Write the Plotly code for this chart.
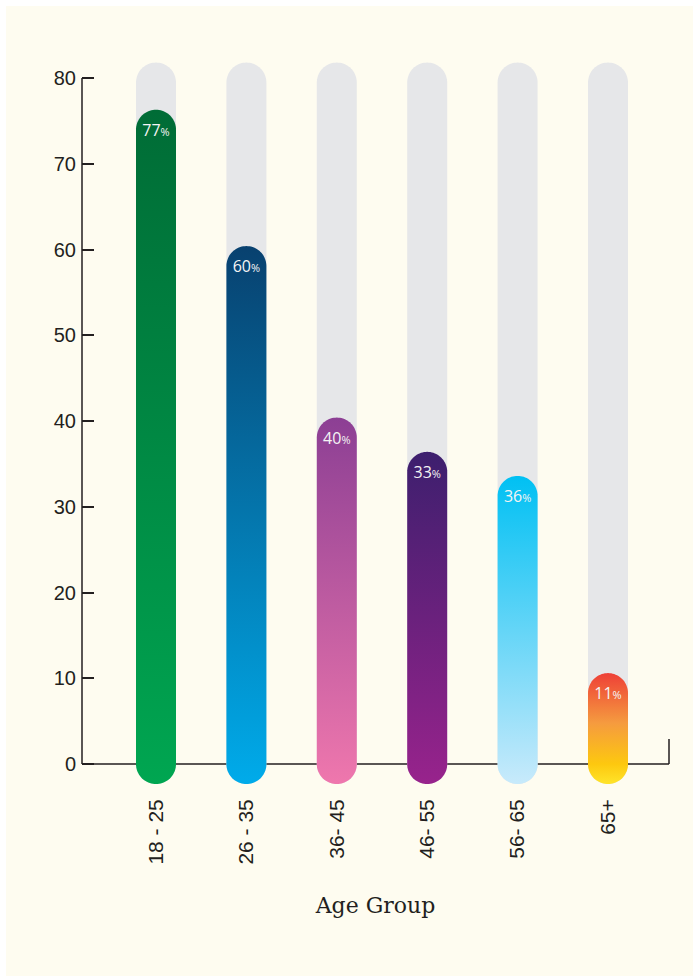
import numpy as np
import plotly.graph_objects as go

# ---------------- data ----------------
categories = ["18 - 25", "26 - 35", "36- 45", "46- 55", "56- 65", "65+"]
bar_heights = [76.3, 60.4, 40.4, 36.4, 33.6, 10.6]      # visual bar tops (axis units)
label_values = [77, 60, 40, 33, 36, 11]                  # printed percentages
track_height = 81.8
y_ticks = [0, 10, 20, 30, 40, 50, 60, 70, 80]
top_colors = ["#006c36", "#08416f", "#8c3f94", "#3d1f6e", "#00c0f3", "#ee4037"]
bottom_colors = ["#00a651", "#00abea", "#ef77ad", "#98238c", "#c8eafb", "#ffe42a"]

# ---------------- layout geometry (pixels) ----------------
W, H = 693, 976
PL, PR, PT, PB = 82, 669, 50, 794          # plot area edges
Y0_PX, Y80_PX = 764, 78                    # pixel of y=0 and y=80
X0_PX, X5_PX = 156, 608                    # pixel of first / last bar centre
R = 20                                     # bar radius (px)

sy = (Y0_PX - Y80_PX) / 80.0
sx = (X5_PX - X0_PX) / 5.0
ymin = -(PB - Y0_PX) / sy
ymax = (Y0_PX - PT) / sy
xmin = -(X0_PX - PL) / sx
xmax = 5 + (PR - X5_PX) / sx
rx, ry = R / sx, R / sy


def stadium(c, y_top):
    t1 = np.linspace(0, np.pi, 41)
    t2 = np.linspace(np.pi, 2 * np.pi, 41)
    ytc = y_top - ry
    xs = np.concatenate([c + rx * np.cos(t1), c + rx * np.cos(t2)])
    ys = np.concatenate([ytc + ry * np.sin(t1), 0 + ry * np.sin(t2)])
    return np.append(xs, xs[0]), np.append(ys, ys[0])


fig = go.Figure()

# grey tracks
for i in range(len(categories)):
    xs, ys = stadium(i, track_height)
    fig.add_trace(go.Scatter(x=xs, y=ys, mode="none", fill="toself",
                             fillcolor="#e6e7e9", hoverinfo="skip", showlegend=False))

# gradient bars
for i, h in enumerate(bar_heights):
    xs, ys = stadium(i, h)
    fig.add_trace(go.Scatter(
        x=xs, y=ys, mode="none", fill="toself", hoverinfo="skip", showlegend=False,
        fillgradient=dict(type="vertical", start=-ry, stop=h,
                          colorscale=[[0, bottom_colors[i]], [1, top_colors[i]]]
                          if i != 5 else
                          [[0, "#ffe42a"], [0.18, "#fdc80f"], [0.55, "#f59b3f"], [1, "#ee4037"]]),
    ))

# labels
fig.add_trace(go.Scatter(
    x=list(range(len(categories))),
    y=[h - 22 / sy for h in bar_heights],
    mode="text",
    text=[f"{v}<span style='font-size:11px'>%</span>" for v in label_values],
    textfont=dict(family="Open Sans", size=16, color="#f4f4f4"),
    textposition="middle center",
    cliponaxis=False, hoverinfo="skip", showlegend=False,
))


def px2paper_x(p):
    return (p - PL) / (PR - PL)


def px2paper_y(p):
    return (PB - p) / (PB - PT)


axis_col = "#231f20"
shapes = [
    dict(type="rect", xref="paper", yref="paper", layer="below",
         x0=px2paper_x(6), x1=px2paper_x(W + 2), y0=px2paper_y(H + 2), y1=px2paper_y(6),
         fillcolor="#fefcf0", line=dict(width=0)),
    dict(type="line", xref="paper", yref="y", layer="below",
         x0=0, x1=0, y0=0, y1=80, line=dict(color=axis_col, width=1.5)),
    dict(type="line", xref="paper", yref="y", layer="below",
         x0=0, x1=1, y0=0, y1=0, line=dict(color=axis_col, width=1.5)),
    dict(type="line", xref="paper", yref="y", layer="below",
         x0=1, x1=1, y0=0, y1=25 / sy, line=dict(color=axis_col, width=1.5)),
]

fig.update_layout(
    width=W, height=H,
    margin=dict(l=PL, r=W - PR, t=PT, b=H - PB, pad=0),
    paper_bgcolor="#ffffff",
    plot_bgcolor="rgba(0,0,0,0)",
    shapes=shapes,
    showlegend=False,
    xaxis=dict(range=[xmin, xmax], tickvals=list(range(len(categories))), ticktext=categories,
               tickangle=-90, showgrid=False, zeroline=False, showline=False, ticks="",
               tickfont=dict(family="Liberation Sans", size=21, color=axis_col),
               title=dict(text="Age Group", standoff=34,
                          font=dict(family="DejaVu Serif", size=22, color=axis_col)),
               fixedrange=True),
    yaxis=dict(range=[ymin, ymax], tickvals=y_ticks, showgrid=False, zeroline=False,
               showline=False, ticks="inside", ticklen=12, tickwidth=1.5, tickcolor=axis_col,
               ticklabelstandoff=5,
               tickfont=dict(family="Liberation Sans", size=20, color=axis_col),
               fixedrange=True),
)

fig.write_html("out.html")
